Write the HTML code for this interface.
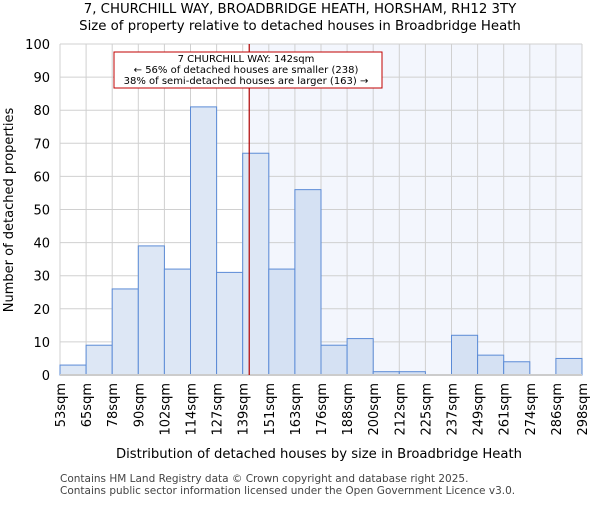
<!DOCTYPE html>
<html><head><meta charset="utf-8"><style>
body{margin:0;background:#fff;font-family:"Liberation Sans","DejaVu Sans",sans-serif}
svg text{font-family:"DejaVu Sans","Liberation Sans",sans-serif}
</style></head><body>
<svg id="chart" width="600" height="500" xmlns="http://www.w3.org/2000/svg">
<text x="300" y="13" text-anchor="middle" font-size="13.3">7, CHURCHILL WAY, BROADBRIDGE HEATH, HORSHAM, RH12 3TY</text>
<text x="300" y="30" text-anchor="middle" font-size="13.3">Size of property relative to detached houses in Broadbridge Heath</text>
<g id="plot"></g>
<text x="319" y="458" text-anchor="middle" font-size="13.2">Distribution of detached houses by size in Broadbridge Heath</text>
<text transform="translate(13,210) rotate(-90)" text-anchor="middle" font-size="13">Number of detached properties</text>
<text x="60" y="482" font-size="10.5" fill="#444">Contains HM Land Registry data © Crown copyright and database right 2025.</text>
<text x="60" y="494" font-size="10.5" fill="#444">Contains public sector information licensed under the Open Government Licence v3.0.</text>
</svg>
<script>
const tickLabels=["53sqm","65sqm","78sqm","90sqm","102sqm","114sqm","127sqm","139sqm","151sqm","163sqm","176sqm","188sqm","200sqm","212sqm","225sqm","237sqm","249sqm","261sqm","274sqm","286sqm","298sqm"];
const counts=[3,9,26,39,32,81,31,67,32,56,9,11,1,1,0,12,6,4,0,5];
const yTicks=[0,10,20,30,40,50,60,70,80,90,100];
const propertyPos=7.25;
const NS="http://www.w3.org/2000/svg";
const g=document.getElementById('plot');
const x0=60,x1=582,yTop=44,yBot=375,yMax=100;
const n=counts.length,bw=(x1-x0)/n;
const X=i=>x0+i*bw, Y=v=>yBot-(v/yMax)*(yBot-yTop);
function mk(t,a){const e=document.createElementNS(NS,t);for(const k in a)e.setAttribute(k,a[k]);g.appendChild(e);return e;}
const px=X(propertyPos);
const sh=mk('rect',{x:px,y:yTop,width:x1-px,height:yBot-yTop,fill:'#f3f6fd'});


yTicks.forEach(v=>{
  const l=mk('line',{x1:x0,x2:x1,y1:Y(v),y2:Y(v),stroke:'#d0d0d0'});
  
  
  const t=mk('text',{x:x0-10,y:Y(v)+5,'text-anchor':'end','font-size':13});
  t.textContent=v;
  
  
});
tickLabels.forEach((s,i)=>{
  const l=mk('line',{x1:X(i),x2:X(i),y1:yTop,y2:yBot,stroke:'#d0d0d0'});
  
  
  const t=mk('text',{transform:`translate(${X(i)+5},383) rotate(-90)`,'text-anchor':'end','font-size':13});
  t.textContent=s;
  
  
});
counts.forEach((c,i)=>{
  if(!c)return;
  const r=mk('rect',{x:X(i),y:Y(c),width:bw,height:yBot-Y(c),fill:i>=propertyPos?'#d5e1f3':'#dde7f5',stroke:'#5b8bd6','stroke-width':1});
  
  
});
const ax=mk('line',{x1:x0,x2:x1,y1:yBot,y2:yBot,stroke:'#ccc','stroke-width':2});


const pl=mk('line',{x1:px,x2:px,y1:yTop,y2:yBot,stroke:'#b00000','stroke-width':1.2});


const box=mk('rect',{x:114,y:52,width:268,height:36,fill:'#fff',stroke:'#c00000','stroke-width':1});


["7 CHURCHILL WAY: 142sqm","← 56% of detached houses are smaller (238)","38% of semi-detached houses are larger (163) →"].forEach((s,i)=>{
  const t=mk('text',{x:246,y:62+i*11,'text-anchor':'middle','font-size':10});
  t.textContent=s;
  
  
});
</script>
</body></html>
